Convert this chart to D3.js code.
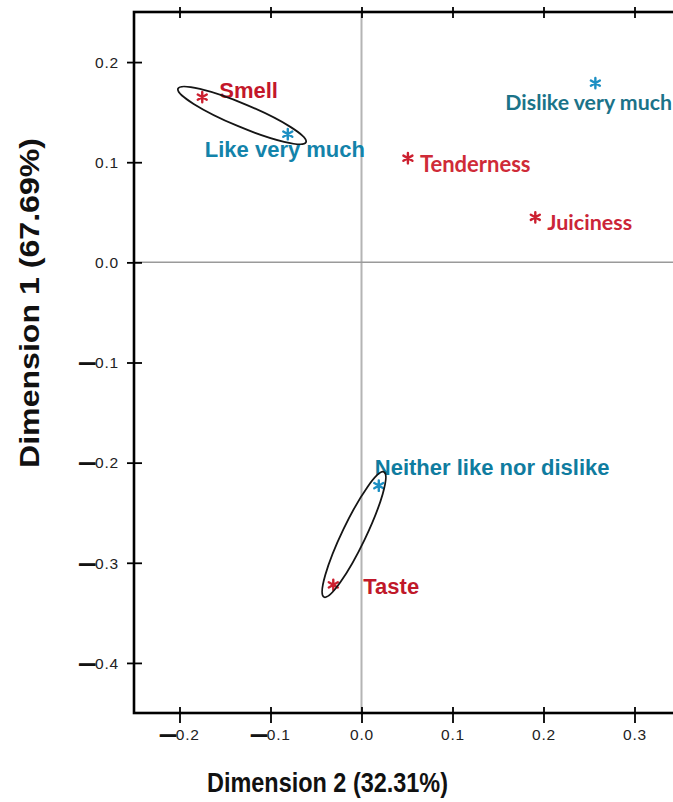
<!DOCTYPE html>
<html>
<head>
<meta charset="utf-8">
<script src="https://cdn.jsdelivr.net/npm/d3@7"></script>
<style>
  html, body { margin: 0; padding: 0; background: #fff; }
  svg { display: block; }
</style>
</head>
<body>
<script>
// Correspondence analysis map: sensory attributes vs. liking levels

// Sensory attributes (red)
const attributes   = ["Smell", "Tenderness", "Juiciness", "Taste"];
const attributeDim2 = [-0.175, 0.051, 0.191, -0.031];
const attributeDim1 = [0.165, 0.104, 0.045, -0.322];

// Liking levels (blue)
const likingLevels = ["Like very much", "Dislike very much", "Neither like nor dislike"];
const likingDim2   = [-0.081, 0.257, 0.019];
const likingDim1   = [0.128, 0.179, -0.223];

// Groupings circled on the map: ends of each ellipse's long axis (Dim 2, Dim 1)
const ellipseFrom  = [[-0.2016, 0.1735], [0.0247, -0.2093]];
const ellipseTo    = [[-0.0610, 0.1200], [-0.0412, -0.3342]];
const ellipseRatio = [0.165, 0.17];   // short axis / long axis

// Axis ticks and titles
const xTicks = [-0.2, -0.1, 0.0, 0.1, 0.2, 0.3];
const yTicks = [0.2, 0.1, 0.0, -0.1, -0.2, -0.3, -0.4];
const xTitle = "Dimension 2 (32.31%)";
const yTitle = "Dimension 1 (67.69%)";

// ---------------------------------------------------------------------------
const W = 673, H = 802;
const plotL = 134, plotR = 680, plotT = 12, plotB = 713;

const x = d3.scaleLinear().domain([-0.25, 0.35]).range([plotL, plotR]);
const y = d3.scaleLinear().domain([-0.45, 0.25]).range([plotB, plotT]);

const svg = d3.select("body").append("svg")
  .attr("width", W).attr("height", H)
  .attr("viewBox", `0 0 ${W} ${H}`);

const ARIAL = "'Liberation Sans', Arial, Helvetica, sans-serif";
const HUMANIST = "Lato, 'Open Sans', sans-serif";

// label placement relative to each point (px) and label styling
const attrLabelStyle = [
  {dx: 17, dy: 1,  font: ARIAL,    size: 22, fill: "#c3172a"},
  {dx: 12, dy: 14, font: HUMANIST, size: 22, fill: "#cf2b38"},
  {dx: 12, dy: 13, font: HUMANIST, size: 21.5, fill: "#cb2538"},
  {dx: 30, dy: 9,  font: ARIAL,    size: 22, fill: "#c0182a"}
];
const likingLabelStyle = [
  {dx: -83, dy: 23,  font: ARIAL,    size: 22, fill: "#1383aa"},
  {dx: -90, dy: 27,  font: HUMANIST, size: 21.3, fill: "#1b7389"},
  {dx: -4,  dy: -11, font: ARIAL,    size: 22, fill: "#0f7c9f"}
];
const RED_STAR = "#cc2030";
const BLUE_STAR = "#1c8fc3";

// zero reference lines
svg.append("line")
  .attr("x1", x(0)).attr("x2", x(0))
  .attr("y1", plotT).attr("y2", plotB)
  .attr("stroke", "#b4b4b4").attr("stroke-width", 2);
svg.append("line")
  .attr("x1", plotL).attr("x2", plotR)
  .attr("y1", y(0)).attr("y2", y(0))
  .attr("stroke", "#9a9a9a").attr("stroke-width", 1.5);

// points as asterisks
const star = d3.symbol().type(d3.symbolAsterisk).size(76);

function drawPoints(names, xs, ys, styles, starColor) {
  const g = svg.append("g");
  names.forEach((name, i) => {
    const px = x(xs[i]), py = y(ys[i]);
    g.append("path")
      .attr("d", star())
      .attr("transform", `translate(${px},${py})`)
      .attr("fill", "none")
      .attr("stroke", starColor)
      .attr("stroke-width", 2.4)
      .attr("stroke-linecap", "round");
    const s = styles[i];
    g.append("text")
      .attr("x", px + s.dx).attr("y", py + s.dy)
      .attr("font-family", s.font)
      .attr("font-size", s.size)
      .attr("font-weight", "bold")
      .attr("fill", s.fill)
      .text(name);
  });
}
drawPoints(attributes, attributeDim2, attributeDim1, attrLabelStyle, RED_STAR);
drawPoints(likingLevels, likingDim2, likingDim1, likingLabelStyle, BLUE_STAR);

// grouping ellipses
ellipseFrom.forEach((a, i) => {
  const b = ellipseTo[i];
  const x1 = x(a[0]), y1 = y(a[1]), x2 = x(b[0]), y2 = y(b[1]);
  const cx = (x1 + x2) / 2, cy = (y1 + y2) / 2;
  const rx = Math.hypot(x2 - x1, y2 - y1) / 2;
  const ang = Math.atan2(y2 - y1, x2 - x1) * 180 / Math.PI;
  svg.append("ellipse")
    .attr("cx", 0).attr("cy", 0)
    .attr("rx", rx).attr("ry", rx * ellipseRatio[i])
    .attr("transform", `translate(${cx},${cy}) rotate(${ang})`)
    .attr("fill", "none")
    .attr("stroke", "#151515")
    .attr("stroke-width", 1.8);
});

// frame
svg.append("rect")
  .attr("x", plotL).attr("y", plotT)
  .attr("width", plotR - plotL).attr("height", plotB - plotT)
  .attr("fill", "none").attr("stroke", "#000").attr("stroke-width", 2.6);

// axes
const fmt = d3.format(".1f");
function styleTickText(sel) {
  sel.selectAll(".tick text")
    .attr("font-family", ARIAL)
    .attr("font-size", 15.5)
    .attr("letter-spacing", 0.8)
    .attr("fill", "#222")
    .each(function(d) {
      const t = d3.select(this);
      t.text(null);
      if (d < 0) {
        t.append("tspan")
          .attr("font-weight", "bold")
          .attr("stroke", "#111").attr("stroke-width", 1.1)
          .attr("letter-spacing", 0)
          .text("\u2014");
      }
      t.append("tspan").text(fmt(Math.abs(d)));
    });
}

const xAxis = svg.append("g")
  .attr("transform", `translate(0,${plotB})`)
  .call(d3.axisBottom(x).tickValues(xTicks).tickSize(10).tickPadding(0));
xAxis.select(".domain").remove();
xAxis.selectAll(".tick line").attr("y1", -6).attr("y2", 10)
  .attr("stroke", "#000").attr("stroke-width", 1.8);
xAxis.selectAll(".tick text").attr("y", 16).attr("dy", "0.71em");
styleTickText(xAxis);

const xAxisTop = svg.append("g")
  .attr("transform", `translate(0,${plotT})`)
  .call(d3.axisTop(x).tickValues(xTicks).tickSize(6).tickFormat(""));
xAxisTop.select(".domain").remove();
xAxisTop.selectAll(".tick line").attr("y1", -5).attr("y2", 6)
  .attr("stroke", "#000").attr("stroke-width", 1.8);

const yAxis = svg.append("g")
  .attr("transform", `translate(${plotL},0)`)
  .call(d3.axisLeft(y).tickValues(yTicks).tickSize(7).tickPadding(0));
yAxis.select(".domain").remove();
yAxis.selectAll(".tick line").attr("x1", -7).attr("x2", 8)
  .attr("stroke", "#000").attr("stroke-width", 1.8);
yAxis.selectAll(".tick text").attr("x", -15).attr("dy", "0.34em");
styleTickText(yAxis);

// axis titles
svg.append("text")
  .attr("x", 327.5).attr("y", 792)
  .attr("text-anchor", "middle")
  .attr("font-family", ARIAL).attr("font-weight", "bold").attr("font-size", 27)
  .attr("fill", "#111")
  .attr("textLength", 241).attr("lengthAdjust", "spacingAndGlyphs")
  .text(xTitle);

svg.append("text")
  .attr("transform", "translate(39,303) rotate(-90)")
  .attr("text-anchor", "middle")
  .attr("font-family", ARIAL).attr("font-weight", "bold").attr("font-size", 27)
  .attr("fill", "#111")
  .attr("textLength", 330).attr("lengthAdjust", "spacingAndGlyphs")
  .text(yTitle);
</script>
</body>
</html>
